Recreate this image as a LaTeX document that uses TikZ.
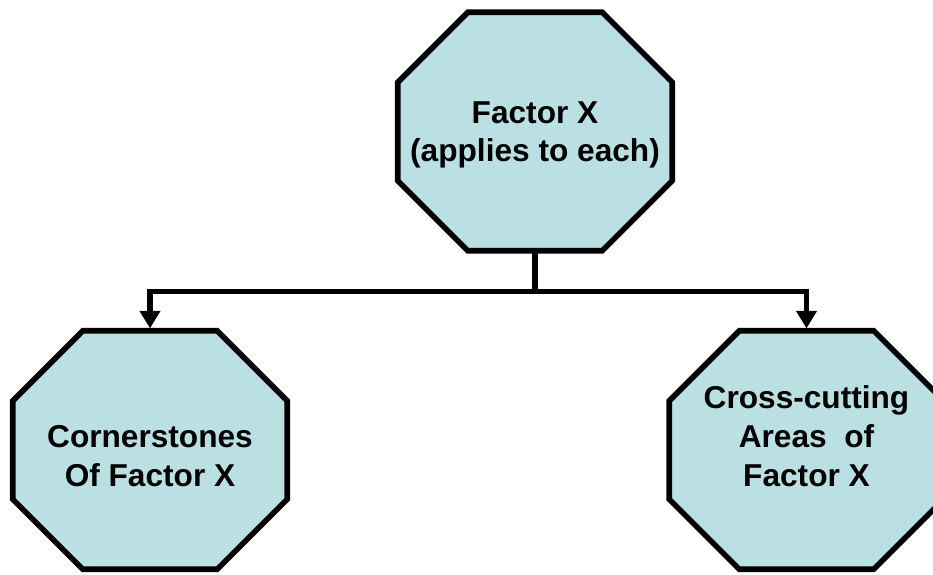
\documentclass[tikz,border=0pt]{standalone}
\usepackage{fontspec}
\setmainfont{Liberation Sans}
\usetikzlibrary{arrows.meta,backgrounds,calc}
\definecolor{octfill}{RGB}{186,224,227}
\tikzset{
  octagon/.style={minimum width=8.22cm, minimum height=7.14cm, inner sep=0pt,
    align=center, font=\fontsize{27}{33}\selectfont\bfseries},
  link/.style={line width=4.6pt, line join=miter, shorten >=2pt,
    -{Triangle[length=15pt,width=17pt]}},
}
\newcommand{\octcut}{70}

\begin{document}
\begin{tikzpicture}[x=0.03cm, y=-0.03cm]
\useasboundingbox (0,0) rectangle (933,574);
\node[octagon, text depth=0pt] (fx) at (535,131.5) {Factor X\\(applies to each)};
\node[octagon, text height=62pt, text depth=0pt] (cs) at (150,450) {Cornerstones\\Of Factor X};
\node[octagon, text depth=24pt] (cc) at (806.5,450) {Cross-cutting\\Areas \ of\\Factor X};

% octagon outlines go behind the text
\begin{scope}[on background layer]
\foreach \n in {fx,cs,cc}
  \filldraw[fill=octfill, line width=4.8pt, line join=miter]
    ($(\n.north west)+(\octcut,0)$) -- ($(\n.north east)+(-\octcut,0)$)
    -- ($(\n.north east)+(0,\octcut)$) -- ($(\n.south east)+(0,-\octcut)$)
    -- ($(\n.south east)+(-\octcut,0)$) -- ($(\n.south west)+(\octcut,0)$)
    -- ($(\n.south west)+(0,-\octcut)$) -- ($(\n.north west)+(0,\octcut)$) -- cycle;
\end{scope}

\draw[link] (fx.south) -- ++(0,41) -| (cs.north);
\draw[link] (fx.south) -- ++(0,41) -| (cc.north);
\end{tikzpicture}
\end{document}
